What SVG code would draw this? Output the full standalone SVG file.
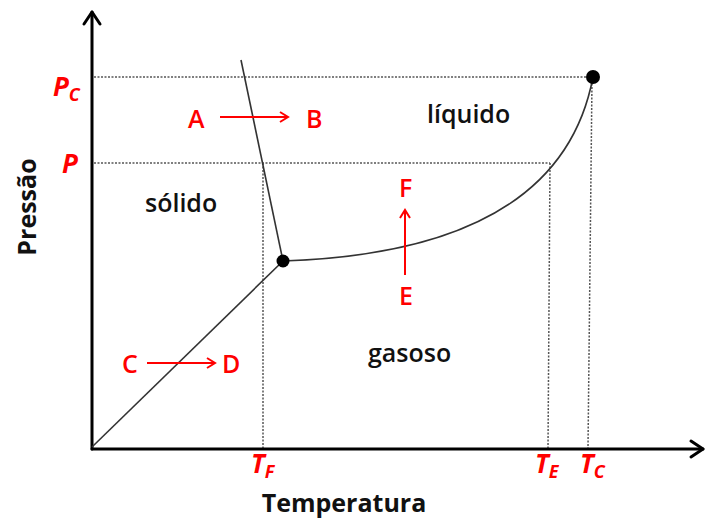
<svg xmlns="http://www.w3.org/2000/svg" width="707" height="522" viewBox="0 0 707 522">
<style>
.axis{stroke:#000;stroke-width:3;fill:none;stroke-linecap:round;stroke-linejoin:round}
.curve{stroke:#333;stroke-width:1.6;fill:none}
.dot{stroke:#555;stroke-width:1.5;stroke-dasharray:2 1.5;fill:none}
.red{stroke:#f00;stroke-width:2;fill:none}
.lbl{font-family:"Open Sans","DejaVu Sans",sans-serif;font-size:25px;font-weight:600;fill:#111}
.rl{font-family:"Open Sans","DejaVu Sans",sans-serif;font-size:25px;font-weight:600;fill:#f00}
.ri{font-family:"Open Sans","DejaVu Sans",sans-serif;font-weight:700;font-style:italic;fill:#f00}
.ax{font-family:"Open Sans","DejaVu Sans",sans-serif;font-size:25px;font-weight:700;fill:#111}
</style>
<defs>
<marker id="ah" markerWidth="12" markerHeight="12" refX="10" refY="6" orient="auto" markerUnits="userSpaceOnUse">
<path d="M2,1 L10,6 L2,11" fill="none" stroke="#f00" stroke-width="2"/>
</marker>
</defs>
<g id="guides">
<line class="dot" x1="94" y1="77" x2="590" y2="77"/>
<line class="dot" x1="94" y1="163" x2="550" y2="163"/>
<line class="dot" x1="263" y1="163" x2="263" y2="448"/>
<line class="dot" x1="550" y1="163" x2="548" y2="448"/>
<line class="dot" x1="592" y1="80" x2="588" y2="448"/>
</g>
<g id="axes">
<line class="axis" x1="92" y1="12" x2="92" y2="449"/>
<path class="axis" d="M84,24 L92,12 L100,24"/>
<line class="axis" x1="92" y1="449" x2="703" y2="449"/>
<path class="axis" d="M691,441 L703,449 L691,457"/>
</g>
<g id="connectors">
<line class="curve" x1="241" y1="60" x2="283" y2="261"/>
<line class="curve" x1="92" y1="447" x2="283" y2="261"/>
<path class="curve" d="M283,261 Q560,252 593,77"/>
<line class="red" x1="220" y1="117" x2="288" y2="117" marker-end="url(#ah)"/>
<line class="red" x1="147" y1="363" x2="215" y2="363" marker-end="url(#ah)"/>
<line class="red" x1="405" y1="275" x2="405" y2="210" marker-end="url(#ah)"/>
</g>
<g id="triple"><circle cx="283" cy="261" r="6.5" fill="#000"/></g>
<g id="critical"><circle cx="593" cy="77" r="7" fill="#000"/></g>
<g id="regions">
<text class="lbl" x="145" y="212">sólido</text>
<text class="lbl" x="427" y="123">líquido</text>
<text class="lbl" x="368" y="362">gasoso</text>
</g>
<g id="points">
<text class="rl" x="188" y="128">A</text>
<text class="rl" x="306" y="128">B</text>
<text class="rl" x="122" y="373">C</text>
<text class="rl" x="222" y="373">D</text>
<text class="rl" x="399" y="305">E</text>
<text class="rl" x="399" y="197">F</text>
</g>
<g id="ticks">
<text class="ri" font-size="26" x="53" y="96">P<tspan font-size="18" dy="5">C</tspan></text>
<text class="ri" font-size="26" x="62" y="173">P</text>
<text class="ri" font-size="26" x="251" y="473">T<tspan font-size="18" dy="5">F</tspan></text>
<text class="ri" font-size="26" x="535" y="473">T<tspan font-size="18" dy="5">E</tspan></text>
<text class="ri" font-size="26" x="580" y="473">T<tspan font-size="18" dy="5">C</tspan></text>
</g>
<g id="axis-titles">
<text class="ax" x="344" y="512" text-anchor="middle">Temperatura</text>
<text class="ax" transform="translate(36,207) rotate(-90)" text-anchor="middle">Pressão</text>
</g>
</svg>
